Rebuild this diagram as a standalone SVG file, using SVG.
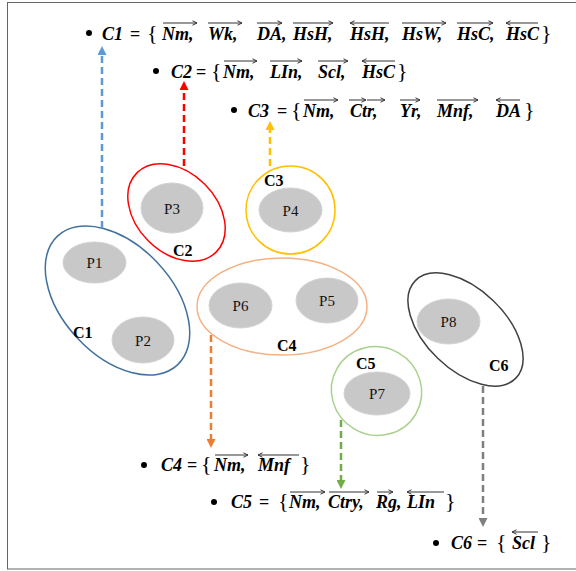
<svg xmlns="http://www.w3.org/2000/svg" width="576" height="571" viewBox="0 0 576 571">
<style>
.eq{font-family:"Liberation Serif","Times New Roman",serif;font-size:18px;font-weight:bold;font-style:italic;fill:#000}
.u{font-style:normal}
.br{font-style:normal;font-size:22px;font-weight:normal}
.ov{fill:none;stroke:#333;stroke-width:1;marker-end:url(#oa)}
.cl{fill:none;stroke-width:1.5}
.p{fill:#C8C8C8;stroke:#D2D2D2;stroke-width:1}
.pl{font-family:"Liberation Serif","Times New Roman",serif;font-size:15px;fill:#111;text-anchor:middle}
.cn{font-family:"Liberation Serif","Times New Roman",serif;font-size:16px;font-weight:bold;fill:#000}
.dl{fill:none;stroke-width:2.5;stroke-dasharray:7 4}
</style>
<defs>
<marker id="oa" viewBox="0 0 6 6" refX="5.5" refY="3" markerWidth="6" markerHeight="6" orient="auto" markerUnits="userSpaceOnUse"><path d="M1,0.8 L5.5,3 L1,5.2" fill="none" stroke="#333" stroke-width="1"/></marker>
<marker id="mb" viewBox="0 0 10 10" refX="0" refY="5" markerWidth="9" markerHeight="9" orient="auto" markerUnits="userSpaceOnUse"><path d="M0,0 L10,5 L0,10 z" fill="#5B9BD5"/></marker>
<marker id="mr" viewBox="0 0 10 10" refX="0" refY="5" markerWidth="9" markerHeight="9" orient="auto" markerUnits="userSpaceOnUse"><path d="M0,0 L10,5 L0,10 z" fill="#FF0000"/></marker>
<marker id="my" viewBox="0 0 10 10" refX="0" refY="5" markerWidth="9" markerHeight="9" orient="auto" markerUnits="userSpaceOnUse"><path d="M0,0 L10,5 L0,10 z" fill="#FFC000"/></marker>
<marker id="mo" viewBox="0 0 10 10" refX="0" refY="5" markerWidth="9" markerHeight="9" orient="auto" markerUnits="userSpaceOnUse"><path d="M0,0 L10,5 L0,10 z" fill="#ED7D31"/></marker>
<marker id="mg" viewBox="0 0 10 10" refX="0" refY="5" markerWidth="9" markerHeight="9" orient="auto" markerUnits="userSpaceOnUse"><path d="M0,0 L10,5 L0,10 z" fill="#70AD47"/></marker>
<marker id="mk" viewBox="0 0 10 10" refX="0" refY="5" markerWidth="9" markerHeight="9" orient="auto" markerUnits="userSpaceOnUse"><path d="M0,0 L10,5 L0,10 z" fill="#7F7F7F"/></marker>
</defs>
<rect x="0" y="0" width="576" height="571" fill="#fff"/>
<rect x="7.5" y="2.5" width="580" height="566.5" fill="none" stroke="#666" stroke-width="1"/>

<!-- clusters -->
<g id="C1">
<ellipse class="cl" cx="117.5" cy="300.5" rx="88" ry="55" transform="rotate(47 117.5 300.5)" stroke="#41719C"/>
<text class="cn" x="73" y="338">C1</text>
</g>
<g id="P1"><ellipse class="p" cx="94.5" cy="262.5" rx="31.5" ry="20.5"/><text class="pl" x="94.5" y="268">P1</text></g>
<g id="P2"><ellipse class="p" cx="143" cy="340" rx="31" ry="23"/><text class="pl" x="143" y="345.5">P2</text></g>

<g id="C2">
<ellipse class="cl" cx="176.5" cy="212.5" rx="56" ry="40" transform="rotate(45 176.5 212.5)" stroke="#FF0000" stroke-width="2"/>
<text class="cn" x="173" y="256">C2</text>
</g>
<g id="P3"><ellipse class="p" cx="172" cy="208" rx="31" ry="25"/><text class="pl" x="172" y="213.5">P3</text></g>

<g id="C3">
<ellipse class="cl" cx="290.5" cy="210" rx="44.5" ry="44" stroke="#FFC000"/>
<text class="cn" x="264" y="186">C3</text>
</g>
<g id="P4"><ellipse class="p" cx="290.5" cy="210" rx="31.5" ry="22"/><text class="pl" x="290.5" y="215.5">P4</text></g>

<g id="C4">
<ellipse class="cl" cx="282" cy="306.5" rx="85" ry="48.5" stroke="#F4B183"/>
<text class="cn" x="277" y="351">C4</text>
</g>
<g id="P6"><ellipse class="p" cx="240.5" cy="305.5" rx="31.5" ry="22.5"/><text class="pl" x="240.5" y="311">P6</text></g>
<g id="P5"><ellipse class="p" cx="327" cy="300.5" rx="31" ry="22.5"/><text class="pl" x="327" y="306">P5</text></g>

<g id="C5">
<ellipse class="cl" cx="376.5" cy="391" rx="45.5" ry="44" transform="rotate(30 376.5 391)" stroke="#A9D18E"/>
<text class="cn" x="356" y="369">C5</text>
</g>
<g id="P7"><ellipse class="p" cx="377" cy="393.5" rx="33" ry="21.5"/><text class="pl" x="377" y="399">P7</text></g>

<g id="C6">
<ellipse class="cl" cx="465.5" cy="329.5" rx="70" ry="40" transform="rotate(44 465.5 329.5)" stroke="#404040"/>
<text class="cn" x="489" y="371">C6</text>
</g>
<g id="P8"><ellipse class="p" cx="448.5" cy="321.5" rx="31.5" ry="22.5"/><text class="pl" x="448.5" y="327">P8</text></g>

<!-- connectors -->
<g id="connectors">
<line class="dl" x1="102" y1="228" x2="102" y2="55" stroke="#5B9BD5" marker-end="url(#mb)"/>
<line class="dl" x1="184" y1="166" x2="184" y2="90" stroke="#FF0000" marker-end="url(#mr)"/>
<line class="dl" x1="270" y1="166" x2="270" y2="130" stroke="#FFC000" marker-end="url(#my)"/>
<line class="dl" x1="211" y1="335" x2="211" y2="439" stroke="#ED7D31" marker-end="url(#mo)"/>
<line class="dl" x1="341" y1="420" x2="341" y2="480" stroke="#70AD47" marker-end="url(#mg)"/>
<line class="dl" x1="483" y1="386" x2="483" y2="518" stroke="#7F7F7F" marker-end="url(#mk)"/>
</g>

<!-- equations -->
<g id="eq1">
<circle cx="89" cy="33" r="3"/>
<text class="eq" y="40"><tspan x="102">C1</tspan><tspan class="u" x="130">=</tspan><tspan class="br" x="147">{</tspan><tspan x="162">Nm,</tspan><tspan x="208">Wk,</tspan><tspan x="257">DA,</tspan><tspan x="293">HsH,</tspan><tspan x="350">HsH,</tspan><tspan x="402">HsW,</tspan><tspan x="457">HsC,</tspan><tspan x="506">HsC</tspan><tspan class="br" x="541">}</tspan></text>
<path class="ov" d="M163,23 H197"/><path class="ov" d="M208,23 H242"/><path class="ov" d="M257,23 H282"/><path class="ov" d="M293,23 H333"/><path class="ov" d="M389,23 H350"/><path class="ov" d="M402,23 H446"/><path class="ov" d="M457,23 H493"/><path class="ov" d="M538,23 H506"/>
</g>
<g id="eq2">
<circle cx="156" cy="71" r="3"/>
<text class="eq" y="78"><tspan x="171">C2</tspan><tspan class="u" x="196">=</tspan><tspan class="br" x="211">{</tspan><tspan x="223">Nm,</tspan><tspan x="270">LIn,</tspan><tspan x="318">Scl,</tspan><tspan x="362">HsC</tspan><tspan class="br" x="397">}</tspan></text>
<path class="ov" d="M224,61 H257"/><path class="ov" d="M270,61 H302"/><path class="ov" d="M318,61 H348"/><path class="ov" d="M395,61 H362"/>
</g>
<g id="eq3">
<circle cx="234" cy="110" r="3"/>
<text class="eq" y="117"><tspan x="248">C3</tspan><tspan class="u" x="277">=</tspan><tspan class="br" x="291">{</tspan><tspan x="303">Nm,</tspan><tspan x="350">Ctr,</tspan><tspan x="400">Yr,</tspan><tspan x="437">Mnf,</tspan><tspan x="496">DA</tspan><tspan class="br" x="524">}</tspan></text>
<path class="ov" d="M304,100 H338"/><path class="ov" d="M349,100 H366"/><path class="ov" d="M367,100 H385"/><path class="ov" d="M400,100 H420"/><path class="ov" d="M437,100 H478"/><path class="ov" d="M520,100 H496"/>
</g>
<g id="eq4">
<circle cx="144" cy="465" r="3"/>
<text class="eq" y="471"><tspan x="161">C4</tspan><tspan class="u" x="187">=</tspan><tspan class="br" x="201">{</tspan><tspan x="214">Nm,</tspan><tspan x="258">Mnf</tspan><tspan class="br" x="300">}</tspan></text>
<path class="ov" d="M215,455 H248"/><path class="ov" d="M299,455 H258"/>
</g>
<g id="eq5">
<circle cx="214" cy="502" r="3"/>
<text class="eq" y="508"><tspan x="231">C5</tspan><tspan class="u" x="259">=</tspan><tspan class="br" x="278">{</tspan><tspan x="289">Nm,</tspan><tspan x="328">Ctry,</tspan><tspan x="376">Rg,</tspan><tspan x="407">LIn</tspan><tspan class="br" x="445">}</tspan></text>
<path class="ov" d="M290,492 H325"/><path class="ov" d="M329,492 H369"/><path class="ov" d="M377,492 H393"/><path class="ov" d="M444,492 H407"/>
</g>
<g id="eq6">
<circle cx="436" cy="543" r="3"/>
<text class="eq" y="549"><tspan x="451">C6</tspan><tspan class="u" x="477">=</tspan><tspan class="br" x="496">{</tspan><tspan x="512">Scl</tspan><tspan class="br" x="541">}</tspan></text>
<path class="ov" d="M538,532 H512"/>
</g>
</svg>
